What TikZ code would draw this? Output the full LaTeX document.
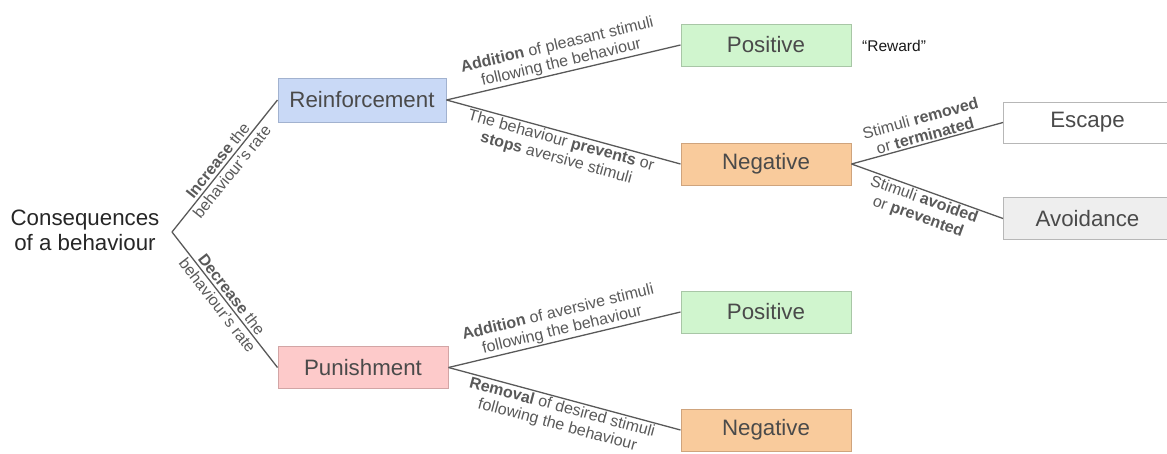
\documentclass[tikz,border=0pt]{standalone}
\usepackage{fontspec}
\setmainfont{Liberation Sans}
\definecolor{linegray}{HTML}{595959}
\definecolor{txtgray}{HTML}{4A4A4A}
\definecolor{reinfFill}{HTML}{C9D9F6}
\definecolor{reinfLine}{HTML}{A2B2CF}
\definecolor{posFill}{HTML}{D0F5CE}
\definecolor{posLine}{HTML}{A8C6A6}
\definecolor{negFill}{HTML}{F9CB9C}
\definecolor{negLine}{HTML}{CFA47D}
\definecolor{punFill}{HTML}{FDCACA}
\definecolor{punLine}{HTML}{D2A5A5}
\definecolor{avFill}{HTML}{EEEEEE}
\definecolor{boxLine}{HTML}{B7B7B7}
\begin{document}
\begin{tikzpicture}[x=1pt,y=-1pt,
  box/.style={draw, line width=1pt, minimum width=170pt, minimum height=42pt,
    inner sep=0pt, font=\fontsize{22.3}{26}\selectfont, text=txtgray},
  lab/.style={font=\fontsize{16}{18}\selectfont, text=linegray, align=center, inner sep=1.5pt},
  conn/.style={draw=linegray, line width=1.3pt}]
\useasboundingbox (0,0) rectangle (1167,453);

% root and the fork point
\node[align=center, font=\fontsize{22.3}{25}\selectfont, text=black!85] (root) at (85,230)
  {Consequences\\of a behaviour};
\coordinate (fork) at (172,232);

% first level
\node[box, fill=reinfFill, draw=reinfLine, minimum width=168pt, minimum height=44pt] (reinf) at (362,100) {Reinforcement};
\node[box, fill=punFill, draw=punLine] (pun) at (363,367.5) {Punishment};

% second level
\node[box, fill=posFill, draw=posLine] (posA) at (766,45) {Positive};
\node[box, fill=negFill, draw=negLine] (negA) at (766,164) {Negative};
\node[box, fill=posFill, draw=posLine] (posB) at (766,312) {Positive};
\node[box, fill=negFill, draw=negLine] (negB) at (766,430) {Negative};

% third level (boxes run off the right edge)
\node[box, fill=white, draw=boxLine, minimum width=200pt, minimum height=41pt, anchor=west] (esc) at (1003,122.5) {\hspace*{-32pt}Escape};
\node[box, fill=avFill, draw=boxLine, minimum width=200pt, anchor=west] (avo) at (1003,218.5) {\hspace*{-32pt}Avoidance};

\node[anchor=west, font=\fontsize{15.5}{18}\selectfont, text=black!90, inner sep=0pt] (rew) at (862,46) {“Reward”};

% connectors; the rate labels straddle their line
\draw[conn] (fork) -- (reinf.west)
  node[midway, sloped, above=1pt, lab] {\textbf{Increase} the}
  node[midway, sloped, below=1pt, lab] {behaviour’s rate};
\draw[conn] (fork) -- (pun.west)
  node[midway, sloped, above=1pt, lab] {\textbf{Decrease} the}
  node[midway, sloped, below=1pt, lab] {behaviour’s rate};

\draw[conn] (reinf.east) -- (posA.west)
  node[midway, sloped, above, lab] {\textbf{Addition} of pleasant stimuli\\following the behaviour};
\draw[conn] (reinf.east) -- (negA.west)
  node[midway, sloped, below, lab] {The behaviour \textbf{prevents} or\\\textbf{stops} aversive stimuli};

\draw[conn] (negA.east) -- (esc.west)
  node[midway, sloped, above, lab] {Stimuli \textbf{removed}\\or \textbf{terminated}};
\draw[conn] (negA.east) -- (avo.west)
  node[midway, sloped, below, lab] {Stimuli \textbf{avoided}\\or \textbf{prevented}};

\draw[conn] (pun.east) -- (posB.west)
  node[midway, sloped, above, lab] {\textbf{Addition} of aversive stimuli\\following the behaviour};
\draw[conn] (pun.east) -- (negB.west)
  node[midway, sloped, below, lab] {\textbf{Removal} of desired stimuli\\following the behaviour};
\end{tikzpicture}
\end{document}
